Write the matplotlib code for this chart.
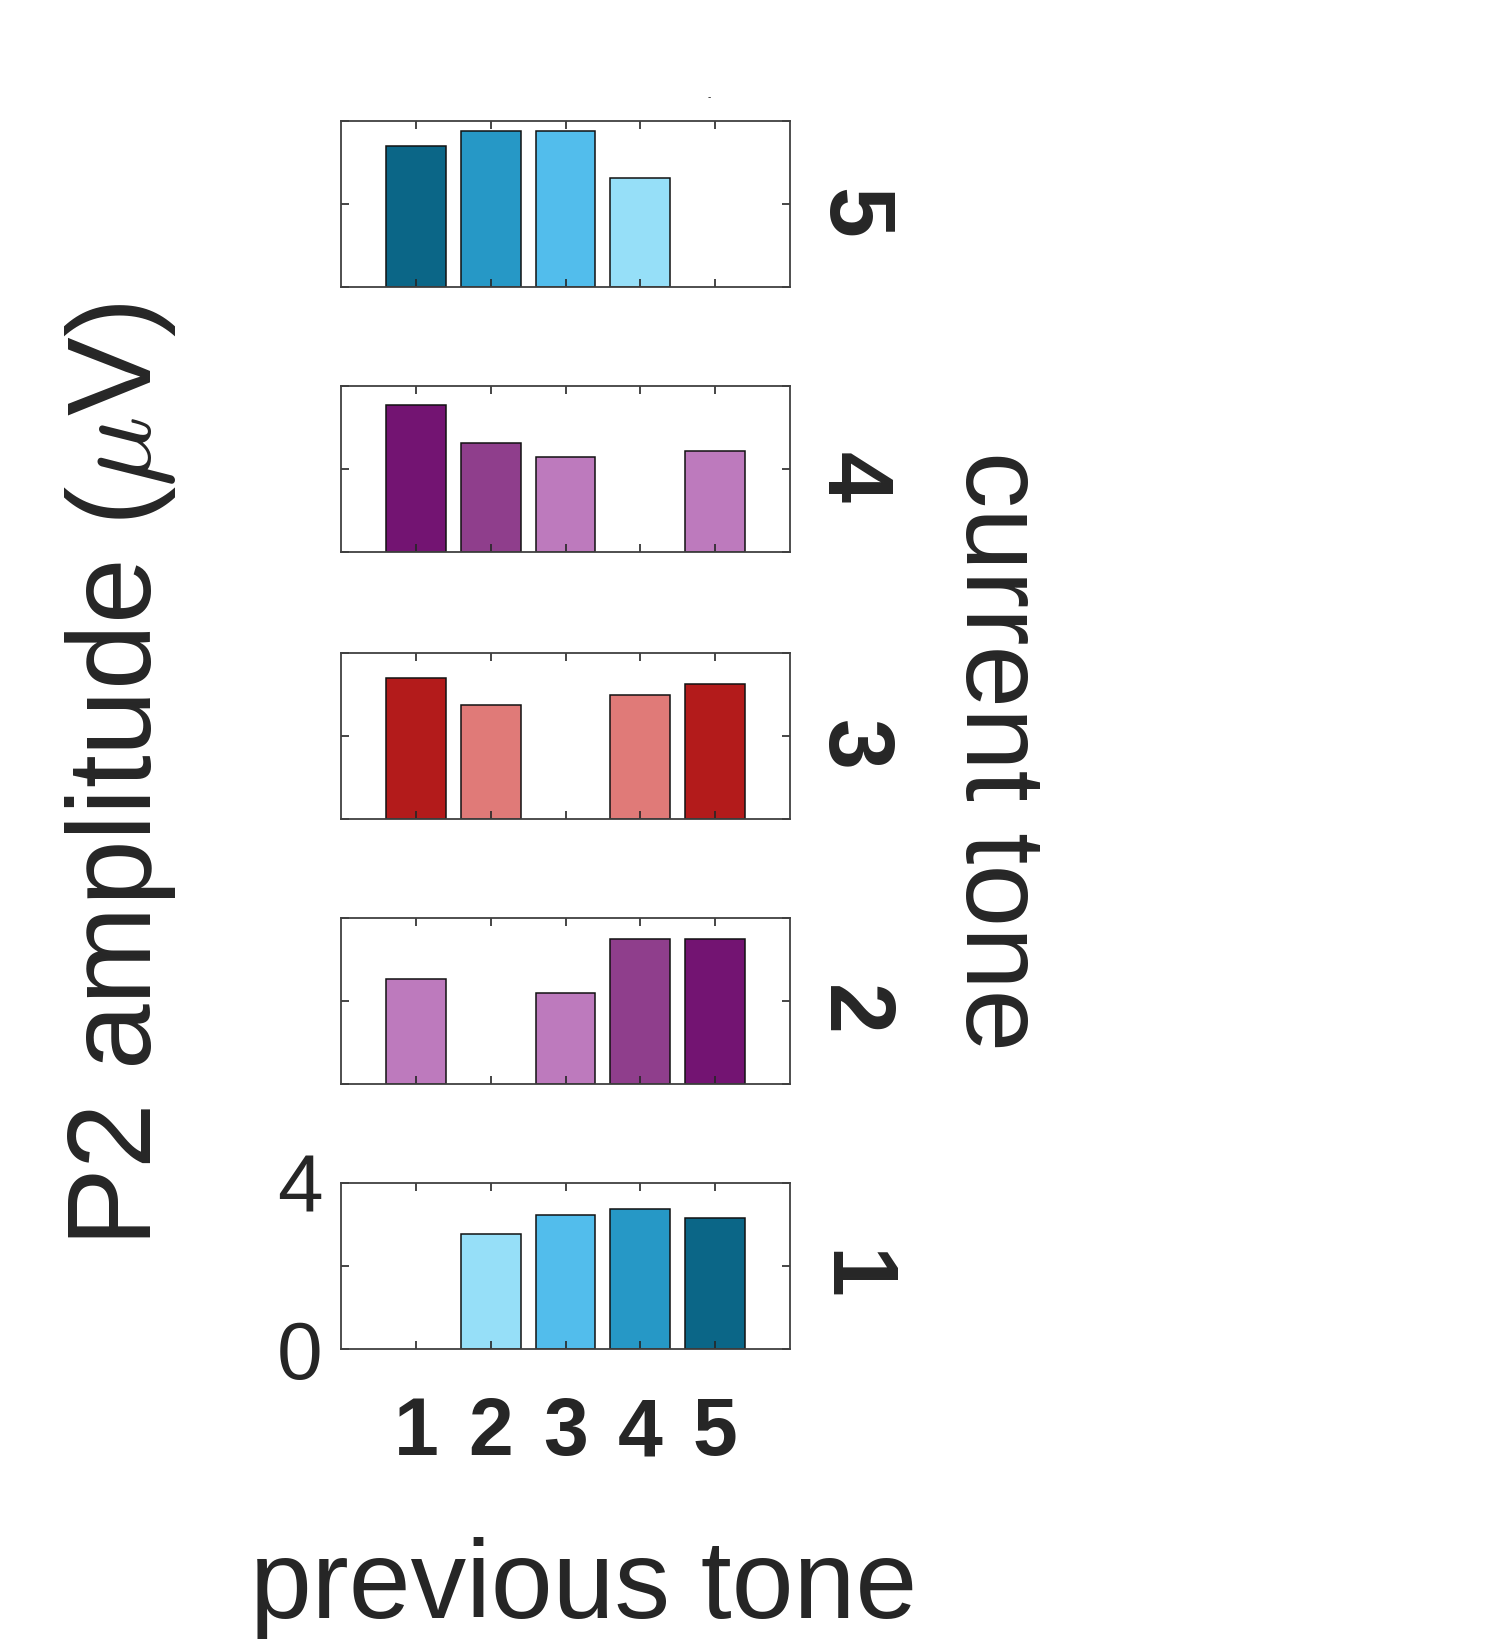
import numpy as np
import matplotlib
matplotlib.use('Agg')
import matplotlib.pyplot as plt

plt.rcParams['font.family'] = ['Liberation Sans', 'DejaVu Sans']
plt.rcParams['mathtext.fontset'] = 'cm'

#%% data (P2 amplitude, uV)
prev_tone = [1, 2, 3, 4, 5]
current_tones = [5, 4, 3, 2, 1]  # top panel to bottom panel

amp_tone5 = [3.40, 3.76, 3.76, 2.63, np.nan]
amp_tone4 = [3.55, 2.62, 2.28, np.nan, 2.43]
amp_tone3 = [3.40, 2.74, np.nan, 2.98, 3.26]
amp_tone2 = [2.54, np.nan, 2.20, 3.49, 3.50]
amp_tone1 = [np.nan, 2.76, 3.23, 3.37, 3.16]

col_tone5 = ['#0b6687', '#2698c6', '#52bdec', '#96dff8', '#ffffff']
col_tone4 = ['#731472', '#8f3e8c', '#bd7abd', '#ffffff', '#bd7abd']
col_tone3 = ['#b31b1b', '#e07a78', '#ffffff', '#e07a78', '#b31b1b']
col_tone2 = ['#bd7abd', '#ffffff', '#bd7abd', '#8f3e8c', '#731472']
col_tone1 = ['#ffffff', '#96dff8', '#52bdec', '#2698c6', '#0b6687']

amps = [amp_tone5, amp_tone4, amp_tone3, amp_tone2, amp_tone1]
cols = [col_tone5, col_tone4, col_tone3, col_tone2, col_tone1]

#%% figure
txt = '#262626'
W, H = 1505, 1639
fig = plt.figure(figsize=(W / 100, H / 100), dpi=100)

left, width, height = 341 / W, 449 / W, 166 / H
tops_px = [121, 386, 653, 918, 1183]

for i, top in enumerate(tops_px):
    ax = fig.add_axes([left, 1 - (top + 166) / H, width, height])
    vals = np.array(amps[i], dtype=float)
    ok = np.isfinite(vals)
    ax.bar(np.array(prev_tone)[ok], vals[ok], width=0.8,
           color=np.array(cols[i])[ok], edgecolor='#111111', linewidth=1.1)
    ax.set_xlim(0, 6)
    ax.set_ylim(0, 4)
    ax.set_xticks(prev_tone)
    ax.set_yticks([0, 2, 4])
    for s in ax.spines.values():
        s.set_color('#404040')
        s.set_linewidth(1.3)
    ax.tick_params(direction='in', top=True, right=True, length=6, width=1.2,
                   color='#262626', labelcolor=txt)
    if i == len(tops_px) - 1:
        ax.set_yticklabels(['0', '', '4'], fontsize=59)
        ax.tick_params(axis='y', pad=13)
        ax.set_xticklabels([str(t) for t in prev_tone], fontsize=58,
                           fontweight='bold')
        ax.tick_params(axis='x', pad=34)
    else:
        ax.set_yticklabels([])
        ax.set_xticklabels([])

    # current tone label on the right of each panel
    yc = 1 - (top + 83 + 9) / H
    fig.text(851 / W, yc, str(current_tones[i]), rotation=-90, ha='center',
             va='center', fontsize=66, fontweight='bold', color=txt)

fig.text(0.080, 0.527, 'P2 amplitude ($\\mu$V)', rotation=90, ha='center',
         va='center', fontsize=85, color=txt)
fig.text(995 / W, 0.5418, 'current tone', rotation=-90, ha='center',
         va='center', fontsize=81, color=txt)
fig.text(584 / W, 1 - 1618 / H, 'previous tone', ha='center', va='baseline',
         fontsize=80, color=txt)
fig.text(709 / W, 1 - 97 / H, '-', ha='center', va='center', fontsize=7,
         color='#111111')

fig.savefig('out.png', dpi=100)
